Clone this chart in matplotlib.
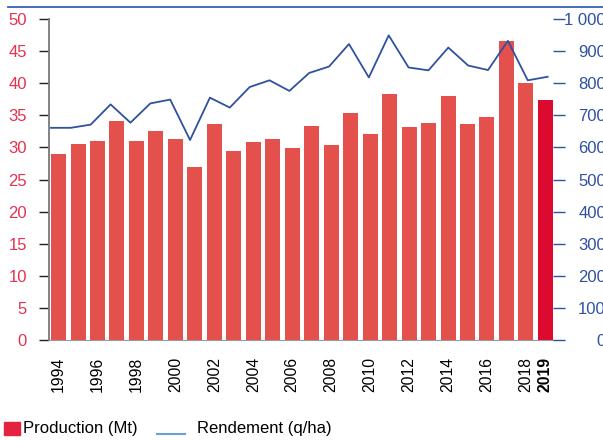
import matplotlib
matplotlib.use("Agg")
from matplotlib import pyplot as plt
from matplotlib.patches import Rectangle
from matplotlib.lines import Line2D

plt.rcParams["font.family"] = ["Liberation Sans", "DejaVu Sans"]

# %%
years = list(range(1994, 2020))
production = [29.0, 30.6, 31.0, 34.1, 31.0, 32.6, 31.3, 27.0, 33.7, 29.5,
              30.9, 31.3, 29.9, 33.3, 30.4, 35.4, 32.1, 38.3, 33.2, 33.8,
              38.0, 33.6, 34.7, 46.6, 40.0, 37.4]
rendement = [661, 661, 671, 734, 677, 737, 749, 623, 755, 724,
             788, 809, 776, 832, 852, 922, 818, 949, 849, 840,
             911, 855, 841, 932, 809, 820]
left_ticks = list(range(0, 55, 5))
right_ticks = list(range(0, 1100, 100))
right_labels = ["0", "100", "200", "300", "400", "500", "600", "700", "800", "900", "1 000"]
year_labels = [str(y) if (y % 2 == 0 or y == 2019) else "" for y in years]

red = "#e4504b"
red_last = "#db0a2e"
blue = "#2f51a0"
left_col = "#e8304f"

# %%
W, H = 603, 441
fig = plt.figure(figsize=(W / 100, H / 100), dpi=100)
rect = [49 / W, 1 - 340 / H, (553 - 49) / W, (340 - 19) / H]
ax = fig.add_axes(rect)

colors = [red] * (len(years) - 1) + [red_last]
ax.bar(years, production, width=0.77, color=colors, zorder=2)
ax.set_xlim(1993.51, 2019.39)
ax.set_ylim(0, 50)
ax.set_yticks(left_ticks)
ax.tick_params(axis="y", direction="out", length=7.2, width=1, color="#222222",
               labelcolor=left_col, labelsize=12, pad=8.6)
ax.set_xticks(years)
ax.set_xticklabels(year_labels, rotation=90, fontsize=11.3)
ax.tick_params(axis="x", length=0, pad=12)
ax.get_xticklabels()[-1].set_fontweight("bold")
for side in ["top", "right"]:
    ax.spines[side].set_visible(False)
ax.spines["left"].set_color("#7a7a7a")
ax.spines["bottom"].set_color("#9a9a9a")
ax.spines["left"].set_linewidth(1.3)

# line axis with its own x scale
ax2 = fig.add_axes(rect, frameon=False)
ax2.plot(range(len(rendement)), rendement, color=blue, lw=1.3, zorder=3)
ax2.set_xlim(-0.1, 25.27)
ax2.set_ylim(0, 1000)
ax2.set_xticks([])
ax2.yaxis.tick_right()
ax2.set_yticks(right_ticks)
ax2.set_yticklabels(right_labels)
ax2.tick_params(axis="y", direction="out", length=8.6, width=1, color=blue,
                labelcolor=blue, labelsize=12, pad=29.5)
for lab in ax2.get_yticklabels():
    lab.set_horizontalalignment("right")
ax2.spines["right"].set_visible(True)
ax2.spines["right"].set_color(blue)
ax2.spines["right"].set_linewidth(1.3)

# top rule
fig.add_artist(Line2D([8 / W, 1], [1 - 6.5 / H] * 2, color="#3a5fb8", lw=1.3))

# legend
fig.add_artist(Rectangle((4 / W, 1 - 435 / H), 16 / W, 13 / H, color="#e4233f",
                         transform=fig.transFigure))
fig.text(23 / W, 1 - 429 / H, "Production (Mt)", fontsize=12, va="center")
fig.add_artist(Line2D([157 / W, 185 / W], [1 - 434 / H] * 2, color="#6a9fd8", lw=1.5))
fig.text(197 / W, 1 - 429 / H, "Rendement (q/ha)", fontsize=12, va="center")

fig.savefig("out.png", dpi=100)
